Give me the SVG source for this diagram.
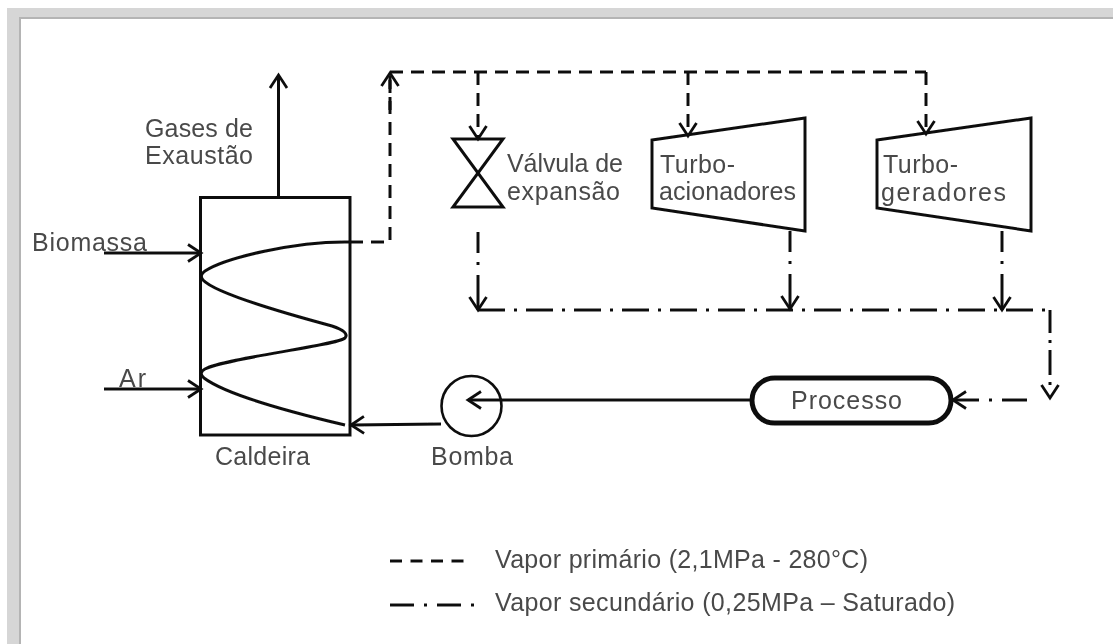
<svg xmlns="http://www.w3.org/2000/svg" width="1113" height="644" viewBox="0 0 1113 644">
<defs>
<filter id="soft" x="-2%" y="-2%" width="104%" height="104%"><feGaussianBlur stdDeviation="0.6"/></filter>
<marker id="arrow" markerUnits="userSpaceOnUse" markerWidth="24" markerHeight="24" refX="20" refY="12" orient="auto"><path d="M7 3.500 L20 12 L7 20.500" fill="none" stroke="#111" stroke-width="2.800"/></marker>
</defs>
<style>
text{font-family:"Liberation Sans",Arial,sans-serif;font-size:25px;fill:#4a4a4a}
.s{fill:none;stroke:#111;stroke-width:3}
.c{fill:none;stroke:#111;stroke-width:3}
.d{stroke-dasharray:13 8}
.dd{stroke-dasharray:27 9 3 9}
.a{marker-end:url(#arrow)}
</style>
<rect width="1113" height="644" fill="#fff"/>
<g id="frame">
<path d="M7 644V8H1113V18H20V644Z" fill="#d6d6d6"/>
<path d="M20 644V18H1113" fill="none" stroke="#b4b4b4" stroke-width="2"/>
</g>
<g filter="url(#soft)">
<g id="connectors">
<path class="c a" d="M278.500 197V75"/>
<path class="c a" d="M104 253H201"/>
<path class="c a" d="M104 389H201"/>
<path class="c a" d="M441 424L351 425"/>
<path class="c a" d="M750 400H468"/>
<path class="c d" d="M350 242H390V72H926"/>
<path class="c d a" d="M390 110V73"/>
<path class="c d a" d="M478 72V139"/>
<path class="c d a" d="M688 72V136"/>
<path class="c d a" d="M926 72V134"/>
<path class="c a" stroke-dasharray="21 9 3 10 36" d="M478 232V310"/>
<path class="c a" stroke-dasharray="21 9 3 10 36" d="M790 231V309"/>
<path class="c a" stroke-dasharray="21 9 3 10 36" d="M1002 231V310"/>
<path class="c dd" d="M478 310H1050"/>
<path class="c a" stroke-dasharray="23 7 3 7 25 7 3 20" d="M1050 310V398"/>
<path class="c a" stroke-dasharray="25 10 3 10 60" d="M1027 400H953"/>
</g>
<g id="caldeira">
<rect class="s" x="200.500" y="197.500" width="149.500" height="237.500"/>
<path class="s" d="M350 242C295 241 225 258 205 271Q199 275 203 280C215 293 280 312 332 326Q350 332 345 338C335 346 225 358 205 369Q198 373 204 378C225 394 290 412 345 425"/>
<text x="215" y="465" textLength="95" lengthAdjust="spacing">Caldeira</text>
</g>
<g id="bomba">
<circle class="s" cx="471.500" cy="406" r="30" style="stroke-width:2.600"/>
<text x="431" y="465" textLength="82" lengthAdjust="spacing">Bomba</text>
</g>
<g id="valvula">
<path class="s" d="M453 139H503L453 207H503Z"/>
<text x="507" y="172" textLength="116" lengthAdjust="spacing">Válvula de</text>
<text x="507" y="200" textLength="113" lengthAdjust="spacing">expansão</text>
</g>
<g id="turboacionadores">
<path class="s" d="M652 140L805 118V231L652 208Z"/>
<text x="660" y="173" textLength="75" lengthAdjust="spacing">Turbo-</text>
<text x="659" y="200" textLength="137" lengthAdjust="spacing">acionadores</text>
</g>
<g id="turbogeradores">
<path class="s" d="M877 140L1031 118V231L877 208Z"/>
<text x="883" y="173" textLength="75" lengthAdjust="spacing">Turbo-</text>
<text x="881" y="201" textLength="125" lengthAdjust="spacing">geradores</text>
</g>
<g id="processo">
<rect x="752" y="378" width="199" height="45" rx="22.500" fill="none" stroke="#111" stroke-width="5"/>
<text x="791" y="409" textLength="111" lengthAdjust="spacing">Processo</text>
</g>
<g id="labels">
<text x="145" y="137" textLength="108" lengthAdjust="spacing">Gases de</text>
<text x="145" y="164" textLength="108" lengthAdjust="spacing">Exaustão</text>
<text x="32" y="251" textLength="115" lengthAdjust="spacing">Biomassa</text>
<text x="119" y="387" textLength="27" lengthAdjust="spacing">Ar</text>
</g>
<g id="legend">
<path class="c" d="M390 561H470" stroke-dasharray="12 8.500"/>
<path class="c" d="M390 605H475" stroke-dasharray="24 10 3 10"/>
<text x="495" y="568" textLength="373" lengthAdjust="spacing">Vapor primário (2,1MPa - 280°C)</text>
<text x="495" y="611" textLength="460" lengthAdjust="spacing">Vapor secundário (0,25MPa – Saturado)</text>
</g>
</g>
</svg>
